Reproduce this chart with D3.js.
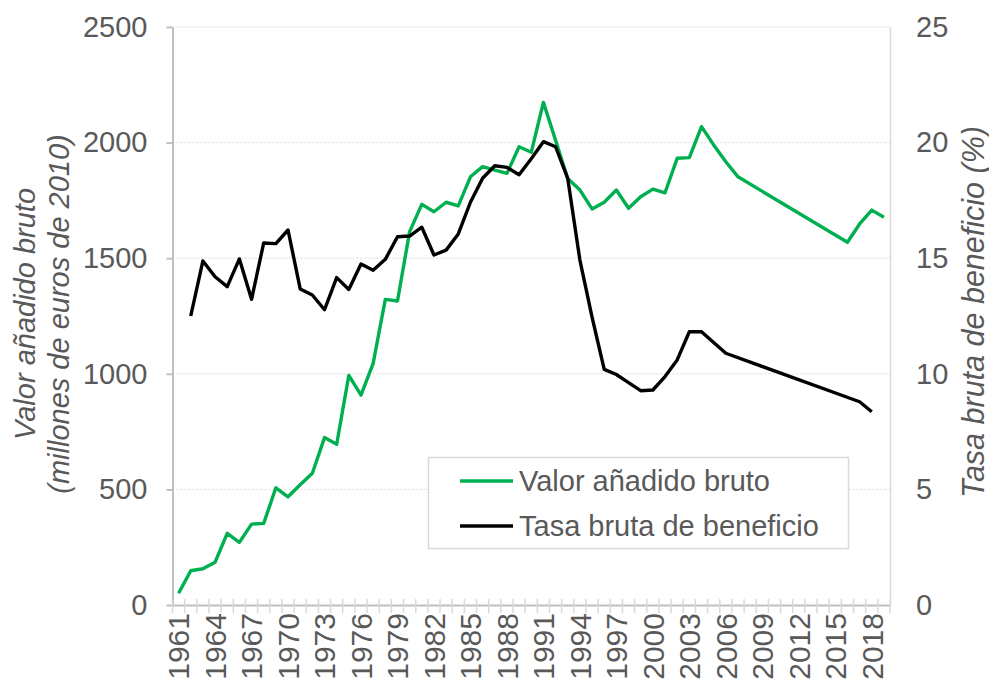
<!DOCTYPE html>
<html>
<head>
<meta charset="utf-8">
<script src="https://cdn.jsdelivr.net/npm/d3@7"></script>
<style>
  body { margin: 0; background: #fff; }
  svg { font-family: "Liberation Sans", Arial, sans-serif; }
</style>
</head>
<body>
<svg width="989" height="687"></svg>
<script>
// years on the category axis
let years = d3.range(1961, 2020);
let yearLabels = years.filter((y) => (y - 1961) % 3 === 0);

// Valor añadido bruto (millones de euros de 2010), only years with data
let vabYears = [
  1961, 1962, 1963, 1964, 1965, 1966, 1967, 1968, 1969, 1970,
  1971, 1972, 1973, 1974, 1975, 1976, 1977, 1978, 1979, 1980,
  1981, 1982, 1983, 1984, 1985, 1986, 1987, 1988, 1989, 1990,
  1991, 1992, 1993, 1994, 1995, 1996, 1997, 1998, 1999, 2000,
  2001, 2002, 2003, 2004, 2005, 2006, 2007, 2016, 2017, 2018, 2019
];
let vabValues = [
  51, 148, 157, 185, 310, 271, 350, 353, 507, 468,
  520, 570, 724, 695, 993, 908, 1045, 1322, 1315, 1615,
  1733, 1701, 1742, 1726, 1852, 1896, 1881, 1867, 1982, 1958,
  2174, 2010, 1845, 1795, 1713, 1742, 1795, 1716, 1766, 1799,
  1783, 1932, 1935, 2069, 1990, 1917, 1852, 1569, 1648, 1708, 1677
];

// Tasa bruta de beneficio (%)
let tasaYears = [
  1962, 1963, 1964, 1965, 1966, 1967, 1968, 1969, 1970,
  1971, 1972, 1973, 1974, 1975, 1976, 1977, 1978, 1979, 1980,
  1981, 1982, 1983, 1984, 1985, 1986, 1987, 1988, 1989, 1990,
  1991, 1992, 1993, 1994, 1995, 1996, 1997, 1998, 1999, 2000,
  2001, 2002, 2003, 2004, 2005, 2006, 2017, 2018
];
let tasaValues = [
  12.5, 14.88, 14.2, 13.77, 14.97, 13.22, 15.66, 15.63, 16.22,
  13.67, 13.41, 12.77, 14.16, 13.65, 14.75, 14.48, 14.95, 15.93, 15.96,
  16.34, 15.14, 15.35, 16.05, 17.42, 18.46, 19.0, 18.93, 18.61, 19.3,
  20.04, 19.82, 18.45, 14.92, 12.45, 10.19, 9.97, 9.62, 9.27, 9.3,
  9.88, 10.6, 11.82, 11.82, 11.35, 10.89, 8.79, 8.36
];

let leftTicks = [0, 500, 1000, 1500, 2000, 2500];
let rightTicks = [0, 5, 10, 15, 20, 25];
let seriesNames = ["Valor añadido bruto", "Tasa bruta de beneficio"];
let seriesColors = ["#00b050", "#000000"];

let svg = d3.select("svg");
let plotLeft = 172.5;
let plotRight = 890;
let plotTop = 27;
let plotBottom = 605;
let textColor = "#595959";
let fontSize = 29;

let xScale = d3.scaleBand().domain(years).range([plotLeft, plotRight]).padding(0);
let xc = (yr) => xScale(yr) + xScale.bandwidth() / 2;
let yLeft = d3.scaleLinear().domain([0, 2500]).range([plotBottom, plotTop]);
let yRight = d3.scaleLinear().domain([0, 25]).range([plotBottom, plotTop]);

let styleTicks = (sel) =>
  sel
    .attr("fill", textColor)
    .style("font-size", fontSize + "px")
    .style("font-family", "Liberation Sans, Arial, sans-serif");

// gridlines
svg.append("g")
  .selectAll("line")
  .data(leftTicks.slice(1))
  .enter()
  .append("line")
  .attr("x1", plotLeft)
  .attr("x2", plotRight)
  .attr("y1", (d) => yLeft(d))
  .attr("y2", (d) => yLeft(d))
  .attr("stroke", "#d9d9d9")
  .attr("stroke-width", 1)
  .attr("stroke-dasharray", "2,2");

// left axis
let yAxisL = d3.axisLeft(yLeft)
  .tickValues(leftTicks)
  .tickFormat(d3.format("d"))
  .tickSize(0)
  .tickPadding(25);
let gL = svg.append("g").attr("transform", `translate(${plotLeft},0)`).call(yAxisL);
gL.select(".domain").attr("stroke", "#bfbfbf").attr("stroke-width", 2);
styleTicks(gL.selectAll(".tick text"));
gL.selectAll(".tick")
  .append("line")
  .attr("x1", -6)
  .attr("x2", 0)
  .attr("stroke", "#bfbfbf")
  .attr("stroke-width", 2);

// right axis
let yAxisR = d3.axisRight(yRight)
  .tickValues(rightTicks)
  .tickFormat(d3.format("d"))
  .tickSize(0)
  .tickPadding(26);
let gR = svg.append("g").attr("transform", `translate(${plotRight},0)`).call(yAxisR);
gR.select(".domain").attr("stroke", "#d9d9d9").attr("stroke-width", 1.5);
styleTicks(gR.selectAll(".tick text"));

// x axis
let xAxis = d3.axisBottom(xScale).tickValues(yearLabels).tickSize(0).tickPadding(0);
let gX = svg.append("g").attr("transform", `translate(0,${plotBottom})`).call(xAxis);
gX.select(".domain").attr("stroke", "#bfbfbf").attr("stroke-width", 2);
styleTicks(gX.selectAll(".tick text"))
  .style("font-size", "30px")
  .attr("text-anchor", "end")
  .attr("transform", "translate(0,8) rotate(-90)")
  .attr("x", 0)
  .attr("y", 0)
  .attr("dy", "0.36em");
gX.append("g")
  .selectAll("line")
  .data(years.concat([2020]))
  .enter()
  .append("line")
  .attr("x1", (d) => plotLeft + (d - 1961) * xScale.step())
  .attr("x2", (d) => plotLeft + (d - 1961) * xScale.step())
  .attr("y1", -6)
  .attr("y2", 8)
  .attr("stroke", "#d9d9d9")
  .attr("stroke-width", 1.5);

// lines
let vabLine = d3.line().x((d, i) => xc(vabYears[i])).y((d) => yLeft(d));
let tasaLine = d3.line().x((d, i) => xc(tasaYears[i])).y((d) => yRight(d));

svg.append("path")
  .datum(vabValues)
  .attr("d", vabLine)
  .attr("fill", "none")
  .attr("stroke", seriesColors[0])
  .attr("stroke-width", 3.4)
  .attr("stroke-linejoin", "round");

svg.append("path")
  .datum(tasaValues)
  .attr("d", tasaLine)
  .attr("fill", "none")
  .attr("stroke", seriesColors[1])
  .attr("stroke-width", 3.4)
  .attr("stroke-linejoin", "round");

// axis titles
let titleL = svg.append("text")
  .attr("transform", "translate(35,314) rotate(-90)")
  .attr("text-anchor", "middle")
  .attr("fill", textColor)
  .style("font-size", fontSize + "px")
  .style("font-style", "italic");
titleL.append("tspan").attr("x", 0).attr("y", 0).text("Valor añadido bruto");
titleL.append("tspan").attr("x", 0).attr("y", 34).text("(millones de euros de 2010)");

svg.append("text")
  .attr("transform", "translate(984,312) rotate(-90)")
  .attr("text-anchor", "middle")
  .attr("fill", textColor)
  .style("font-size", "30.5px")
  .style("font-style", "italic")
  .text("Tasa bruta de beneficio (%)");

// legend
let legend = svg.append("g");
legend.append("rect")
  .attr("x", 428.5)
  .attr("y", 457.5)
  .attr("width", 420)
  .attr("height", 91)
  .attr("fill", "#fff")
  .attr("stroke", "#d9d9d9")
  .attr("stroke-width", 1.5);
let items = legend.selectAll("g.item")
  .data(seriesNames)
  .enter()
  .append("g")
  .attr("class", "item")
  .attr("transform", (d, i) => `translate(0,${481 + i * 45})`);
items.append("line")
  .attr("x1", 460)
  .attr("x2", 513)
  .attr("stroke", (d, i) => seriesColors[i])
  .attr("stroke-width", 3.4);
items.append("text")
  .attr("x", 519)
  .attr("dy", "0.35em")
  .attr("fill", textColor)
  .style("font-size", fontSize + "px")
  .text((d) => d);
</script>
</body>
</html>
